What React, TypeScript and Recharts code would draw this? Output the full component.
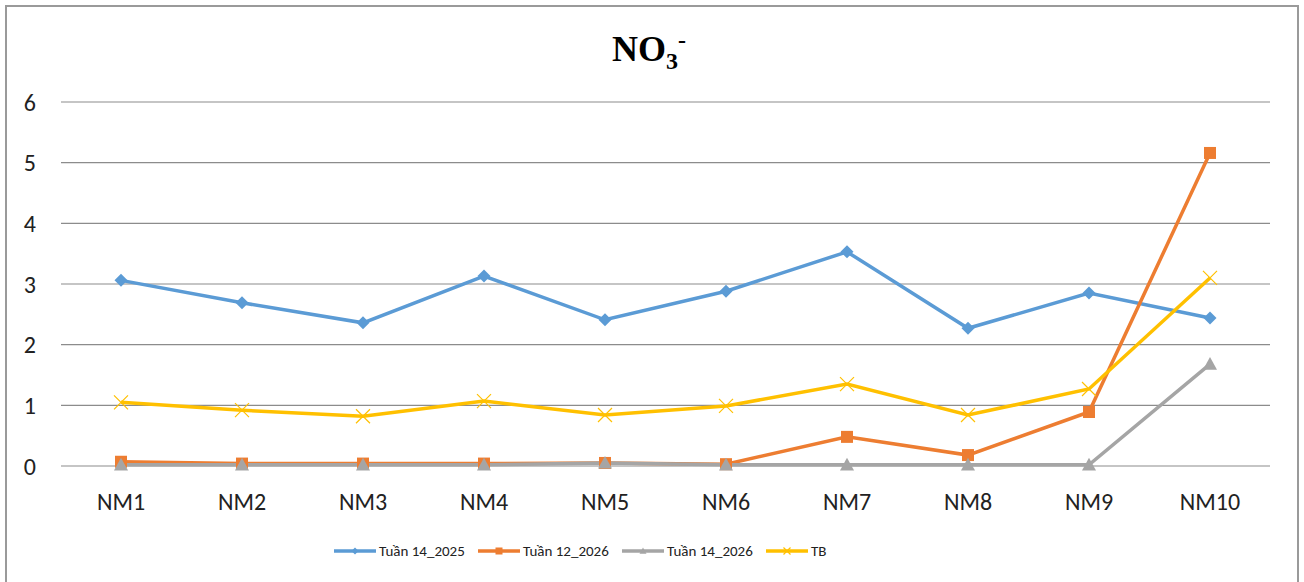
import { LineChart, Line, XAxis, YAxis, CartesianGrid } from "recharts"

const stations = ["NM1", "NM2", "NM3", "NM4", "NM5", "NM6", "NM7", "NM8", "NM9", "NM10"]
const week14_2025 = [3.06, 2.69, 2.36, 3.13, 2.41, 2.88, 3.53, 2.27, 2.85, 2.44]
const week12_2026 = [0.07, 0.04, 0.04, 0.04, 0.05, 0.03, 0.48, 0.18, 0.89, 5.16]
const week14_2026 = [0.02, 0.02, 0.02, 0.02, 0.05, 0.02, 0.02, 0.02, 0.02, 1.68]
const average = [1.05, 0.92, 0.82, 1.07, 0.84, 0.99, 1.35, 0.84, 1.27, 3.1]
const yTicks = [0, 1, 2, 3, 4, 5, 6]

const data = stations.map((s, i) => ({
  name: s,
  a: week14_2025[i],
  b: week12_2026[i],
  c: week14_2026[i],
  tb: average[i]
}))

const BLUE = "#5B9BD5"
const ORANGE = "#ED7D31"
const GRAY = "#A5A5A5"
const YELLOW = "#FFC000"

const font = "Carlito, 'Liberation Sans', Arial, sans-serif"

function Diamond({ cx, cy, size = 6.5, color }: any) {
  return <path d={`M${cx},${cy - size}L${cx + size},${cy}L${cx},${cy + size}L${cx - size},${cy}Z`} fill={color} />
}
function Square({ cx, cy, size = 6, color }: any) {
  return <rect x={cx - size} y={cy - size} width={size * 2} height={size * 2} fill={color} />
}
function Triangle({ cx, cy, size = 7, color }: any) {
  return <path d={`M${cx},${cy - size}L${cx + size},${cy + size * 0.8}L${cx - size},${cy + size * 0.8}Z`} fill={color} />
}
function Cross({ cx, cy, size = 7, color }: any) {
  return (
    <path
      d={`M${cx - size},${cy - size}L${cx + size},${cy + size}M${cx - size},${cy + size}L${cx + size},${cy - size}`}
      stroke={color}
      strokeWidth={1.2}
      fill="none"
    />
  )
}

const dotFor = (Shape: any, color: string) => (p: any) => (
  <Shape key={`d${p.index}`} cx={p.cx} cy={p.cy} color={color} />
)

const legendItems = [
  { label: "Tuần 14_2025", color: BLUE, Shape: Diamond },
  { label: "Tuần 12_2026", color: ORANGE, Shape: Square },
  { label: "Tuần 14_2026", color: GRAY, Shape: Triangle },
  { label: "TB", color: YELLOW, Shape: Cross }
]

function LegendBox() {
  return (
    <div
      style={{
        position: "absolute",
        left: 333,
        top: 542,
        display: "flex",
        fontFamily: font,
        fontSize: 15,
        color: "#222"
      }}
    >
      {legendItems.map((it) => (
        <div key={it.label} style={{ width: 144, display: "flex", alignItems: "center" }}>
          <svg width={44} height={14}>
            <line x1={1} y1={7} x2={43} y2={7} stroke={it.color} strokeWidth={3.5} />
            <it.Shape cx={22} cy={7} size={3.5} color={it.color} />
          </svg>
          <span style={{ marginLeft: 2 }}>{it.label}</span>
        </div>
      ))}
    </div>
  )
}

export default function App() {
  return (
    <div style={{ position: "fixed", left: 0, top: 0, width: 1304, height: 582, background: "#fff" }}>
      <div
        style={{
          position: "absolute",
          left: 5,
          top: 5,
          width: 1290,
          height: 590,
          border: "2px solid #9a9a9a"
        }}
      />
      <div
        style={{
          position: "absolute",
          left: -3,
          width: 1304,
          top: 27,
          textAlign: "center",
          fontFamily: "'Liberation Serif', 'Times New Roman', serif",
          fontWeight: "bold",
          fontSize: 36
        }}
      >
        NO<sub style={{ fontSize: 24 }}>3</sub>
        <sup style={{ fontSize: 24 }}>-</sup>
      </div>
      <div style={{ position: "absolute", left: 0, top: 0 }}>
        <LineChart width={1304} height={582} data={data} margin={{ top: 102, right: 34, bottom: 86, left: 0 }}>
          <CartesianGrid vertical={false} stroke="#8c8c8c" strokeWidth={1.2} />
          <XAxis
            dataKey="name"
            height={30}
            axisLine={false}
            tickLine={false}
            tickMargin={21}
            padding={{ left: 60, right: 60 }}
            tick={{ fill: "#222", fontSize: 24, fontFamily: font }}
          />
          <YAxis
            width={61}
            domain={[0, 6]}
            ticks={yTicks}
            axisLine={false}
            tickLine={false}
            tickMargin={19}
            tick={{ fill: "#222", fontSize: 24, fontFamily: font }}
          />
          <Line dataKey="a" stroke={BLUE} strokeWidth={3.5} dot={dotFor(Diamond, BLUE)} isAnimationActive={false} />
          <Line dataKey="b" stroke={ORANGE} strokeWidth={3.5} dot={dotFor(Square, ORANGE)} isAnimationActive={false} />
          <Line dataKey="c" stroke={GRAY} strokeWidth={3.5} dot={dotFor(Triangle, GRAY)} isAnimationActive={false} />
          <Line dataKey="tb" stroke={YELLOW} strokeWidth={3.5} dot={dotFor(Cross, YELLOW)} isAnimationActive={false} />
        </LineChart>
      </div>
      <LegendBox />
    </div>
  )
}
